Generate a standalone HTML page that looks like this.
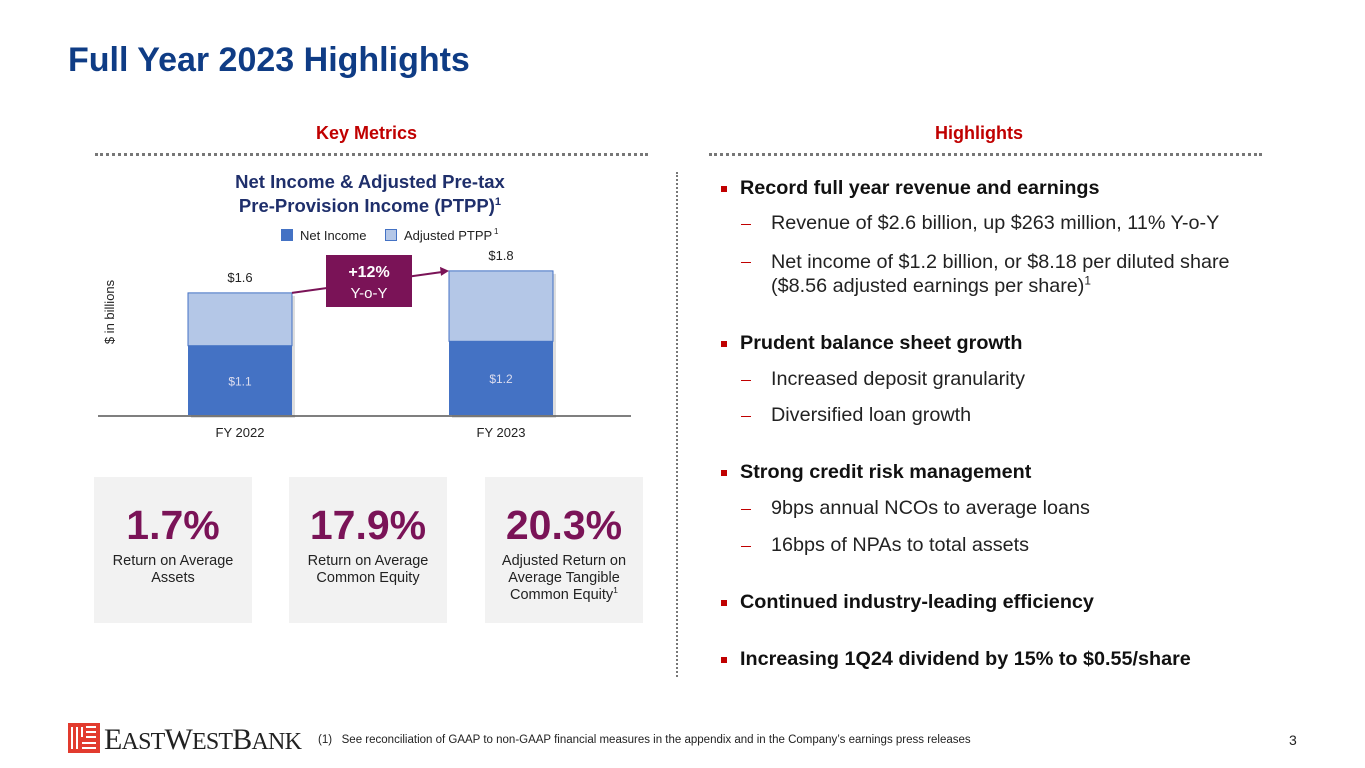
<!DOCTYPE html>
<html><head><meta charset="utf-8"><style>
body{margin:0;width:1365px;height:768px;background:#fff;font-family:"Liberation Sans",Arial,sans-serif;position:relative;overflow:hidden}
.a{position:absolute;white-space:nowrap}
.title{left:68px;top:41px;font-size:34px;font-weight:bold;color:#0f3c85}
.sec{font-size:18px;font-weight:bold;color:#c00000;top:123px}
.dots{position:absolute;height:0;border-top:3px dotted #777;top:153px}
.card{position:absolute;top:477px;width:158px;height:146px;background:#f2f2f2;text-align:center}
.big{font-size:41px;font-weight:bold;color:#7a1357;margin-top:24px;line-height:48px}
.lab{font-size:14.5px;color:#222;line-height:17px;margin-top:4px}
.b{font-size:19.8px;font-weight:bold;color:#111;left:740px}
.bul{position:absolute;left:721px;width:6px;height:6px;background:#c00000}
.s{font-size:19.8px;color:#222;left:771px}
.dash{position:absolute;left:741px;width:10px;height:1px;background:#c00000}
sup{font-size:60%;line-height:0}
</style></head><body>
<div class="a title">Full Year 2023 Highlights</div>
<div class="a sec" style="left:316px">Key Metrics</div>
<div class="a sec" style="left:935px">Highlights</div>
<div class="dots" style="left:95px;width:553px"></div>
<div class="dots" style="left:709px;width:553px"></div>
<div style="position:absolute;left:676px;top:172px;height:505px;border-left:2px dotted #777"></div>

<div class="a" style="left:90px;top:170px;width:560px;text-align:center;font-size:18.5px;font-weight:bold;color:#1f2f6b;line-height:24px">Net Income &amp; Adjusted Pre-tax<br>Pre-Provision Income (PTPP)<sup>1</sup></div>

<svg id="chart" style="position:absolute;left:0;top:0" width="700" height="460"></svg>

<div class="card" style="left:94px"><div class="big">1.7%</div><div class="lab">Return on Average<br>Assets</div></div>
<div class="card" style="left:289px"><div class="big">17.9%</div><div class="lab">Return on Average<br>Common Equity</div></div>
<div class="card" style="left:485px"><div class="big">20.3%</div><div class="lab">Adjusted Return on<br>Average Tangible<br>Common Equity<sup>1</sup></div></div>

<div class="bul" style="top:186px"></div><div class="a b" style="top:177px">Record full year revenue and earnings</div>
<div class="dash" style="top:224px"></div><div class="a s" style="top:212px">Revenue of $2.6 billion, up $263 million, 11% Y-o-Y</div>
<div class="dash" style="top:262px"></div><div class="a s" style="top:250px;line-height:24px">Net income of $1.2 billion, or $8.18 per diluted share<br>($8.56 adjusted earnings per share)<sup>1</sup></div>
<div class="bul" style="top:341px"></div><div class="a b" style="top:332px">Prudent balance sheet growth</div>
<div class="dash" style="top:380px"></div><div class="a s" style="top:368px">Increased deposit granularity</div>
<div class="dash" style="top:416px"></div><div class="a s" style="top:404px">Diversified loan growth</div>
<div class="bul" style="top:470px"></div><div class="a b" style="top:461px">Strong credit risk management</div>
<div class="dash" style="top:509px"></div><div class="a s" style="top:497px">9bps annual NCOs to average loans</div>
<div class="dash" style="top:546px"></div><div class="a s" style="top:534px">16bps of NPAs to total assets</div>
<div class="bul" style="top:600px"></div><div class="a b" style="top:591px">Continued industry-leading efficiency</div>
<div class="bul" style="top:657px"></div><div class="a b" style="top:648px">Increasing 1Q24 dividend by 15% to $0.55/share</div>

<svg style="position:absolute;left:68px;top:723px" width="32" height="30">
<rect width="32" height="30" fill="#e23b2e"/><g stroke="#fff" stroke-width="2"><line x1="4" y1="4" x2="4" y2="26"/><line x1="9" y1="4" x2="9" y2="26"/><line x1="14" y1="4" x2="14" y2="14"/><line x1="18" y1="4" x2="28" y2="4"/><line x1="18" y1="9" x2="28" y2="9"/><line x1="18" y1="14" x2="28" y2="14"/><line x1="14" y1="20" x2="28" y2="20"/><line x1="14" y1="25" x2="28" y2="25"/></g></svg>
<div class="a" style="left:104px;top:723px;font-family:'Liberation Serif',serif;font-size:30px;color:#222;letter-spacing:-0.8px">E<span style="font-size:24px">AST</span>W<span style="font-size:24px">EST</span>B<span style="font-size:24px">ANK</span></div>
<div class="a" style="left:318px;top:734px;font-size:11.5px;color:#222">(1)&nbsp;&nbsp;&nbsp;See reconciliation of GAAP to non-GAAP financial measures in the appendix and in the Company’s earnings press releases</div>
<div class="a" style="left:1289px;top:732px;font-size:14px;color:#222">3</div>

<script>
const categories=["FY 2022","FY 2023"];
const netIncome=[1.13,1.17];
const adjustedPtpp=[1.61,1.81];
const growthLabel=["+12%","Y-o-Y"];
const NS="http://www.w3.org/2000/svg";
const svg=document.getElementById('chart');
const y0=415, yMin=0.5, k=110;
function y(v){return y0-(v-yMin)*k;}
function x(i){return 188+i*261;}
const bw=104;
function mk(t,a,txt){const e=document.createElementNS(NS,t);for(const n in a)e.setAttribute(n,a[n]);if(txt!==undefined)e.textContent=txt;svg.appendChild(e);return e;}
let e=mk('rect',{x:281,y:229,width:12,height:12,fill:'#4472c4'});


e=mk('text',{x:300,y:240,'font-size':13,fill:'#222'},'Net Income');


e=mk('rect',{x:385.5,y:229.5,width:11,height:11,fill:'#b4c7e7',stroke:'#4472c4'});


e=mk('text',{x:404,y:240,'font-size':13,fill:'#222'},'Adjusted PTPP');


mk('text',{x:494,y:234,'font-size':8,fill:'#222'},'1');
e=mk('text',{transform:'translate(114,312) rotate(-90)','text-anchor':'middle','font-size':13,fill:'#222'},'$ in billions');


categories.forEach((c,i)=>{
  const xi=x(i);
  let r=mk('rect',{x:xi+3,y:y(adjustedPtpp[i])+3,width:bw,height:y0-y(adjustedPtpp[i]),fill:'#c8c8c8',opacity:0.6});
  r=mk('rect',{x:xi,y:y(adjustedPtpp[i]),width:bw,height:y(netIncome[i])-y(adjustedPtpp[i]),fill:'#b4c7e7',stroke:'#4472c4','stroke-width':1});
  
  
  r=mk('rect',{x:xi,y:y(netIncome[i]),width:bw,height:y0-y(netIncome[i]),fill:'#4472c4'});
  
  
  let t=mk('text',{x:xi+bw/2,y:y(netIncome[i])+(y0-y(netIncome[i]))/2+5,'text-anchor':'middle','font-size':12,fill:'#dde'},'$'+netIncome[i].toFixed(1));
  
  
  t=mk('text',{x:xi+bw/2,y:y(adjustedPtpp[i])-11,'text-anchor':'middle','font-size':13,fill:'#222'},'$'+adjustedPtpp[i].toFixed(1));
  
  
  t=mk('text',{x:xi+bw/2,y:437,'text-anchor':'middle','font-size':13,fill:'#222'},c);
  
  
});
e=mk('line',{x1:98,y1:y0+1,x2:631,y2:y0+1,stroke:'#555','stroke-width':1.5});


const ax1=x(0)+bw,ay1=y(adjustedPtpp[0]),ax2=x(1),ay2=y(adjustedPtpp[1]);
mk('line',{x1:ax1,y1:ay1,x2:ax2-6,y2:ay2+1,stroke:'#7a1357','stroke-width':2});
mk('polygon',{points:`${ax2},${ay2} ${ax2-9},${ay2-4} ${ax2-8},${ay2+5}`,fill:'#7a1357'});
e=mk('rect',{x:326,y:255,width:86,height:52,fill:'#7a1357'});


mk('text',{x:369,y:277,'text-anchor':'middle','font-size':16,'font-weight':'bold',fill:'#fff'},growthLabel[0]);
mk('text',{x:369,y:298,'text-anchor':'middle','font-size':15,fill:'#fff'},growthLabel[1]);
</script>
</body></html>
